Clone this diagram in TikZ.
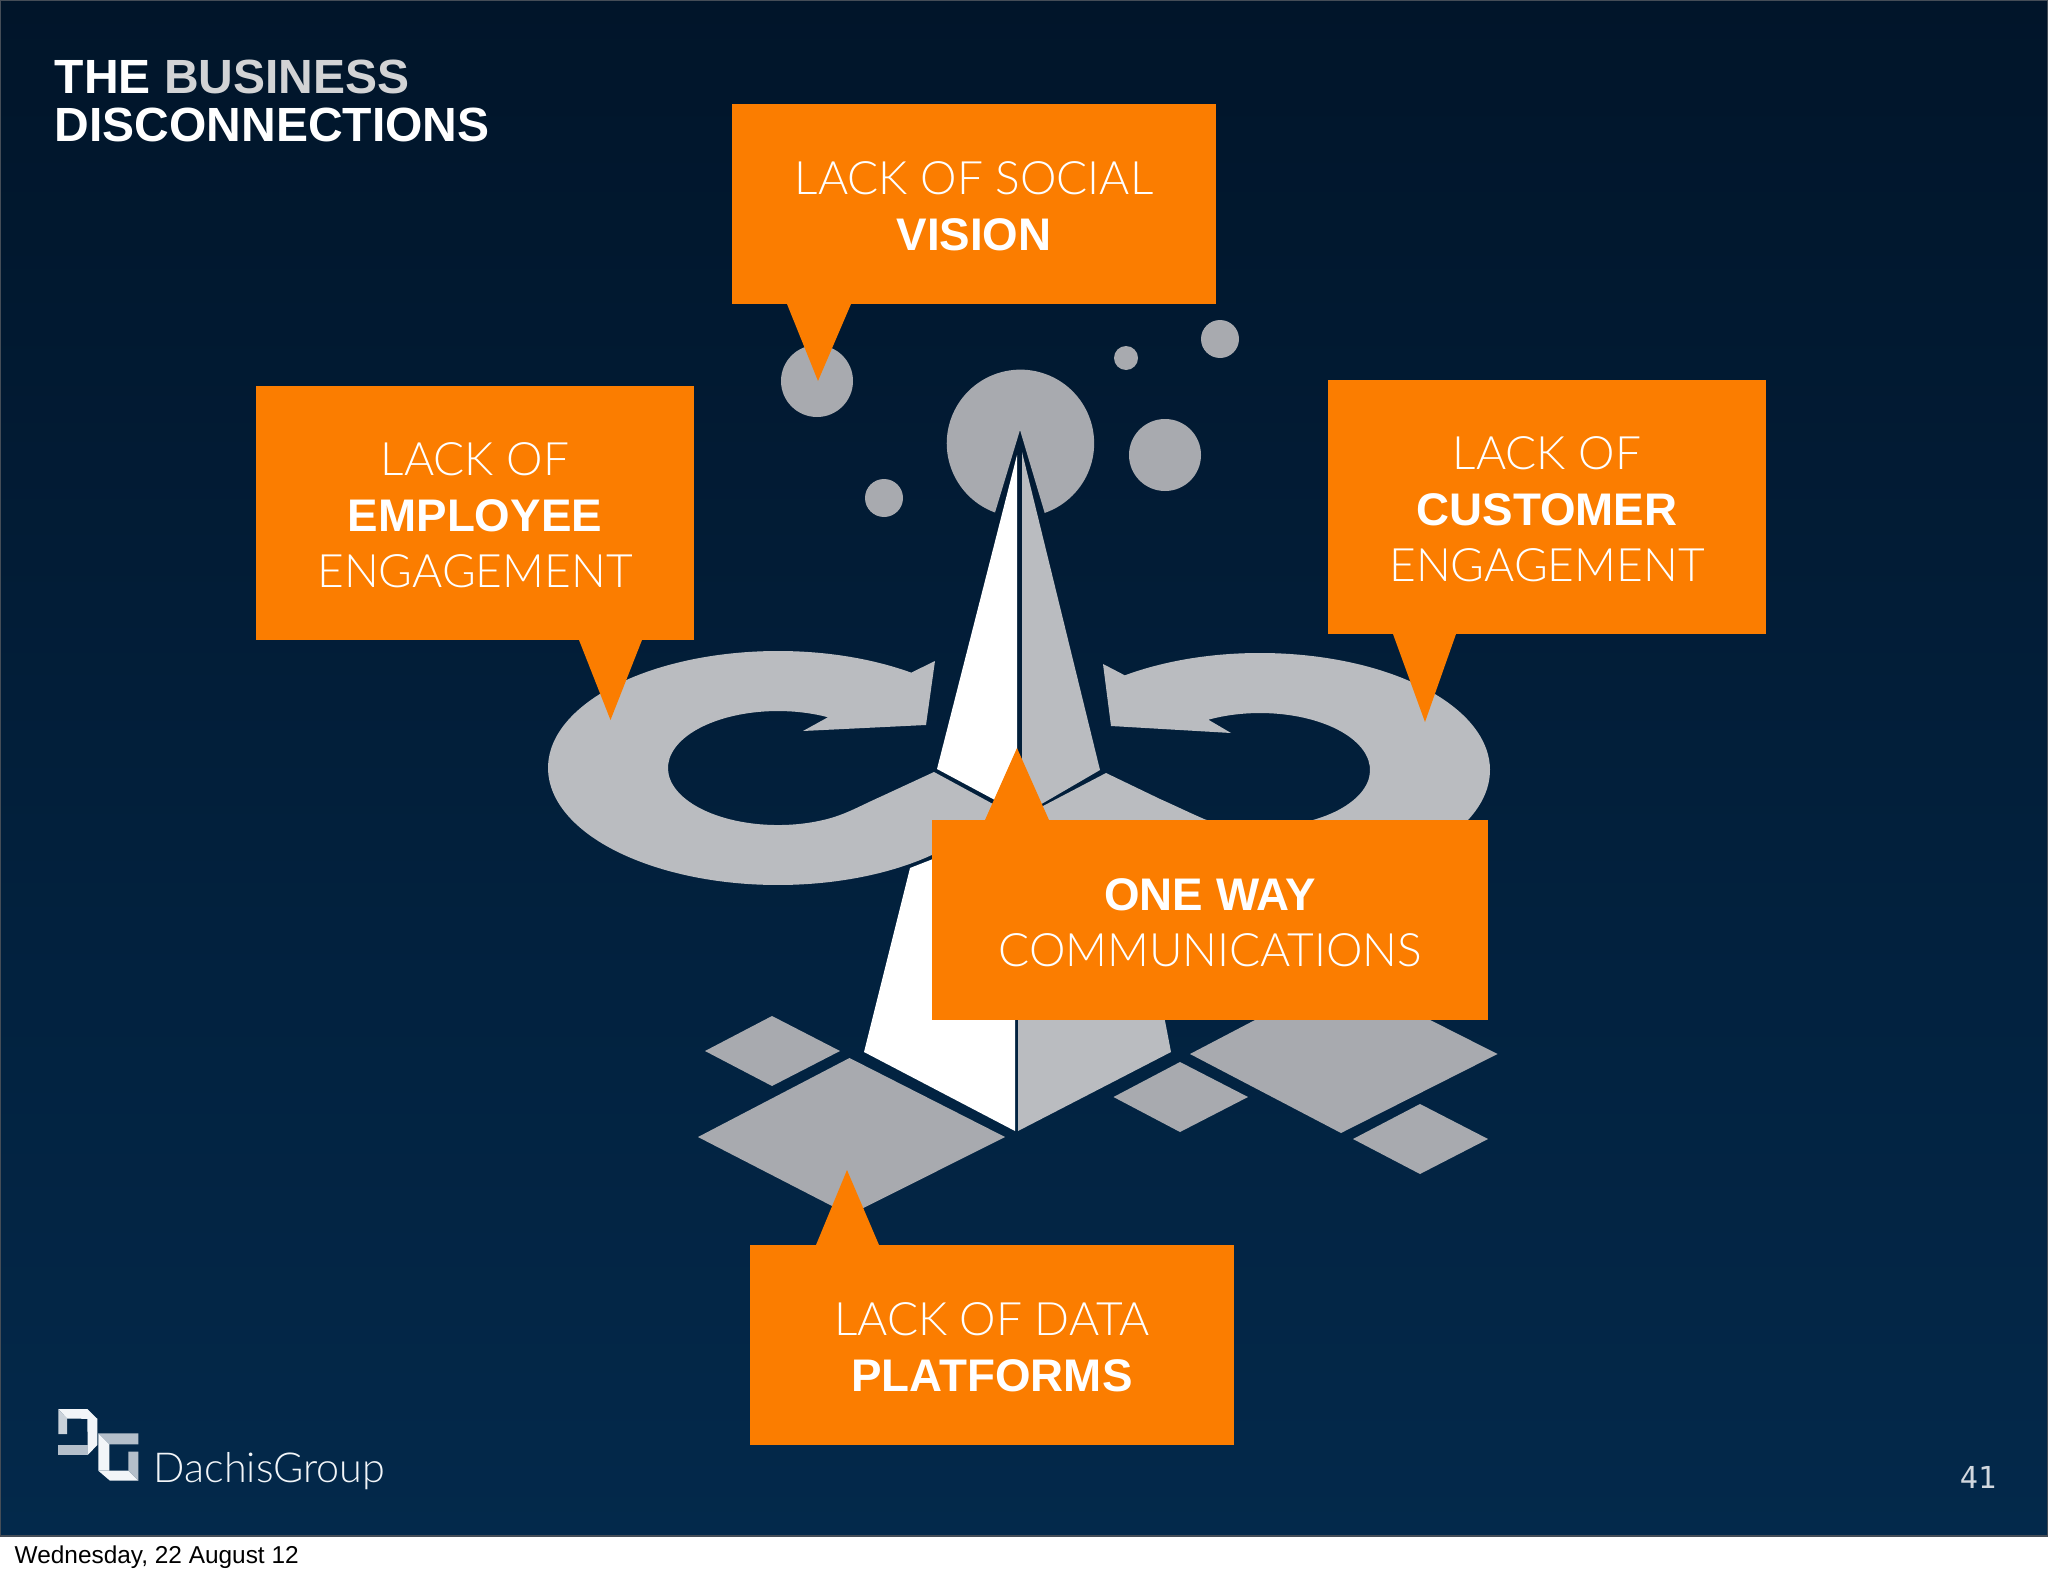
\documentclass[tikz,border=0pt]{standalone}
\usepackage{xcolor}
\usepackage{fontspec}
\setmainfont{Liberation Sans}
\newfontfamily\pagenofont{DejaVu Sans Mono}
\newfontfamily\thinfont{Lato Light}
\definecolor{slidetop}{HTML}{01152A}
\definecolor{slidebottom}{HTML}{03294B}
\definecolor{slideedge}{HTML}{454D57}
\definecolor{calloutorange}{HTML}{FB7D00}
\definecolor{bandgray}{HTML}{BABCC0}
\definecolor{dotgray}{HTML}{A8AAAF}
\definecolor{logolight}{HTML}{F2F5F8}
\definecolor{logogray}{HTML}{B4BFCA}
\tikzset{
	calloutbox/.style={fill=calloutorange,inner sep=0pt},
	callouttext/.style={text=white,align=center,inner sep=0pt,yshift=-0.026cm,font=\fontsize{13}{15.9}\selectfont},
	calloutpin/.style={fill=calloutorange},
	band/.style={fill=bandgray},
	dot/.style={fill=dotgray}
}
\newcommand{\thin}[1]{{\fontsize{13.1}{15.9}\selectfont\thinfont #1}}
\begin{document}
\begin{tikzpicture}[x=0.01cm,y=-0.01cm]
	\useasboundingbox (0,0) rectangle (2048,1576);
	\fill[white] (0,0) rectangle (2048,1576);
	\shade[top color=slidetop,bottom color=slidebottom] (0,0) rectangle (2048,1535);
	\draw[line width=0.02cm,color=slideedge] (0,0) rectangle (2048,1536);
	% dots
	\fill[dot] (817,381) circle (36);
	\fill[dot] (1165,455) circle (36);
	\fill[dot] (1126,358) circle (12);
	\fill[dot] (1220,339) circle (19);
	\fill[dot] (884,498) circle (19);
	\fill[dot] (1020,430) -- (995,512.5) arc[start angle=110.2,end angle=430.8,radius=73.7] -- cycle;
	% diamonds
	\fill[dot] (705,1051) -- (772,1016) -- (840,1051) -- (772,1086) -- cycle;
	\fill[dot] (698,1137) -- (849.5,1058) -- (1005,1137) -- (849.5,1215) -- cycle;
	\fill[dot] (1113.5,1097) -- (1180,1062) -- (1248,1097) -- (1180,1132) -- cycle;
	\fill[dot] (1190,1054) -- (1341,975) -- (1497.5,1054) -- (1341,1133) -- cycle;
	\fill[dot] (1353,1139) -- (1420,1104) -- (1488,1139) -- (1420,1174) -- cycle;
	% pyramid
	\fill[white] (1017,455) -- (937,769) -- (993,799) -- (1017,815) -- cycle;
	\fill[band] (1022,452) -- (1100,770) -- (1045,802) -- (1022,815) -- cycle;
	\fill[white] (910,868) -- (864,1052) -- (1015,1131) -- (1015,830) -- (933,859) -- cycle;
	\fill[band] (1018,1131) -- (1171,1052) -- (1161,1000) -- (1018,1000) -- cycle;
	% loops
	\fill[band] (778,768) ++(-54.6:230 and 117) arc[start angle=-54.6,end angle=-317,x radius=230,y radius=117]
		-- (1000,830) -- (993,804) -- (934,772) -- (880,797) .. controls (862,805) and (850,812) .. (833,817.4)
		arc[start angle=60,end angle=297,x radius=110,y radius=57]
		-- (803,731) -- (926,725) -- (935,661) -- cycle;
	\fill[band] (1260,770) ++(234:230 and 117) arc[start angle=234,end angle=400,x radius=230,y radius=117]
		-- (1040,830) -- (1043,806) -- (1106,773) -- (1160,799) .. controls (1178,807) and (1190,813) .. (1205,819.4)
		arc[start angle=120,end angle=-118,x radius=110,y radius=57]
		-- (1231,733) -- (1111,726) -- (1103,664) -- cycle;
	% callouts
	\node[calloutbox,minimum width=4.84cm,minimum height=2cm] (vision) at (974,204) {};
	\node[calloutbox,minimum width=4.38cm,minimum height=2.54cm] (employee) at (475,513) {};
	\node[calloutbox,minimum width=4.38cm,minimum height=2.54cm] (customer) at (1547,507) {};
	\node[calloutbox,minimum width=5.555cm,minimum height=2cm] (oneway) at (1210.25,920) {};
	\node[calloutbox,minimum width=4.84cm,minimum height=2cm] (platforms) at (992,1345) {};
	\fill[calloutpin] (787,304) -- (818,381) -- (851,304) -- cycle;
	\fill[calloutpin] (579,640) -- (610.5,720) -- (642,640) -- cycle;
	\fill[calloutpin] (1393,634) -- (1425,722) -- (1456,634) -- cycle;
	\fill[calloutpin] (985,820) -- (1017,748) -- (1049,820) -- cycle;
	\fill[calloutpin] (816,1245) -- (847,1170) -- (879,1245) -- cycle;
	\node[callouttext] (visiontext) at (vision) {\thin{LACK OF SOCIAL}\\\textbf{VISION}};
	\node[callouttext] (employeetext) at (employee) {\thin{LACK OF}\\\textbf{EMPLOYEE}\\\thin{ENGAGEMENT}};
	\node[callouttext] (customertext) at (customer) {\thin{LACK OF}\\\textbf{CUSTOMER}\\\thin{ENGAGEMENT}};
	\node[callouttext] (onewaytext) at (oneway) {\textbf{ONE WAY}\\\thin{COMMUNICATIONS}};
	\node[callouttext] (platformstext) at (platforms) {\thin{LACK OF DATA}\\\textbf{PLATFORMS}};
	% title
	\node[anchor=base west,inner sep=0pt,text=white,font=\fontsize{13.65}{13.7}\selectfont\bfseries,align=left] (title) at (54,142) {THE \textcolor[HTML]{D2D3D5}{BUSINESS}\\DISCONNECTIONS};
	% logo
	\fill[logolight] (58.3,1409) -- (87.3,1409) -- (97.3,1419) -- (67,1418.5) -- cycle;
	\fill[logogray!70!white] (58.3,1409) -- (67,1418.5) -- (67,1434) -- (58.3,1434) -- cycle;
	\fill[logolight] (87.3,1418.5) -- (97.3,1418.5) -- (97.3,1445) -- (87.7,1455) -- (87.7,1445) -- cycle;
	\fill[logogray] (58.3,1445) -- (87.7,1445) -- (87.7,1455) -- (58.3,1455) -- cycle;
	\fill[logogray] (98.3,1433.3) -- (138.3,1433.3) -- (138.3,1444.3) -- (109.3,1444.3) -- cycle;
	\fill[logolight] (98.3,1433.3) -- (109.3,1444.3) -- (109.3,1470.7) -- (98.3,1470.7) -- cycle;
	\fill[logolight] (98.3,1470.7) -- (128.3,1470.7) -- (138.3,1480.7) -- (110,1480.7) -- cycle;
	\fill[logogray] (128.3,1451.7) -- (138.3,1451.7) -- (138.3,1480.7) -- (128.3,1470.7) -- cycle;
	\node[anchor=base west,inner sep=0pt,text=logolight,font=\fontsize{11.75}{13}\selectfont\thinfont] (brand) at (153,1482) {DachisGroup};
	\node[anchor=base east,inner sep=0pt,text=logogray!60!white,font=\fontsize{8.6}{10}\selectfont\pagenofont] (pageno) at (1997,1488) {41};
	\node[anchor=base west,inner sep=0pt,text=black,font=\fontsize{6.94}{8}\selectfont] (stamp) at (14,1563) {Wednesday, 22 August 12};
\end{tikzpicture}
\end{document}
